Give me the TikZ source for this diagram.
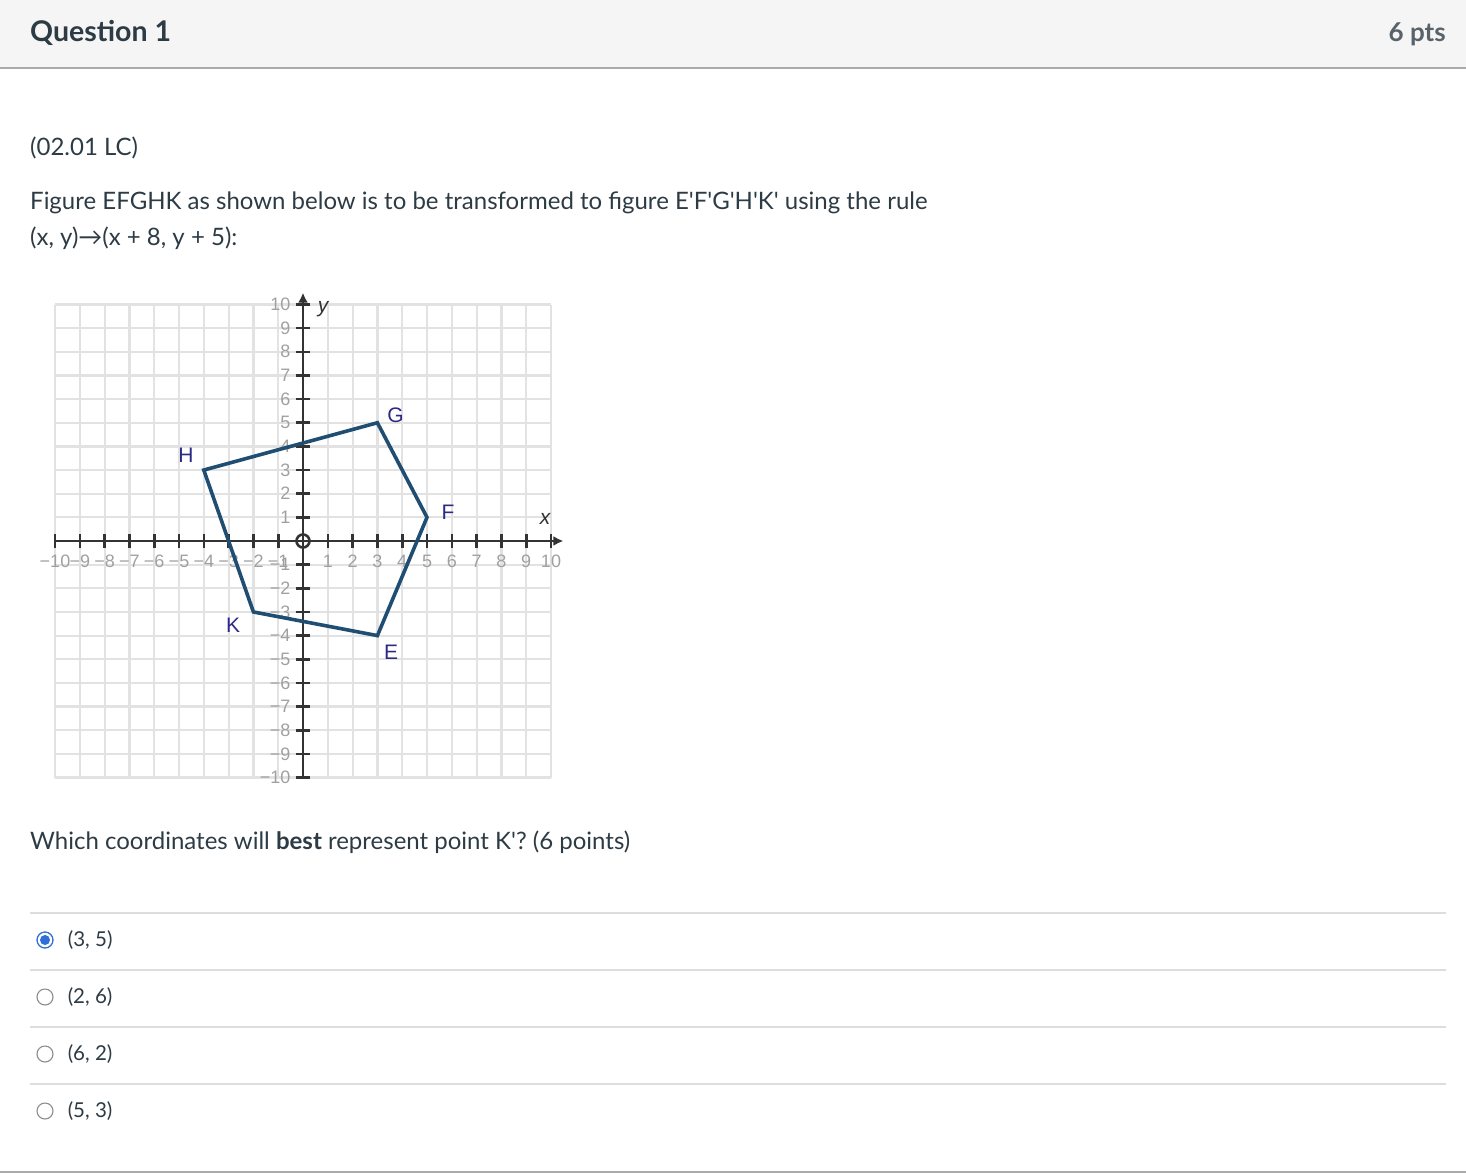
\documentclass[tikz,border=0pt]{standalone}
\usepackage{fontspec}
\setmainfont{Lato}[Ligatures=TeXOff]
\newfontfamily\arial{Liberation Sans}
\usetikzlibrary{positioning,arrows.meta}

\definecolor{canvastext}{HTML}{2D3B45}
\definecolor{headgray}{HTML}{F5F5F5}
\definecolor{rulegray}{HTML}{AAAAAA}
\definecolor{sepgray}{HTML}{DDDDDD}
\definecolor{gridgray}{HTML}{E2E2E2}
\definecolor{axisgray}{HTML}{333333}
\definecolor{numgray}{HTML}{A0A0A0}
\definecolor{shapeblue}{HTML}{1F4E72}
\definecolor{vertexblue}{HTML}{2C2A84}
\definecolor{radioblue}{HTML}{2F6FD6}

\tikzset{
  head/.style={anchor=base west, inner sep=0pt, font=\fontsize{28.5}{34}\selectfont\bfseries, text=canvastext},
  body/.style={anchor=base west, inner sep=0pt, font=\fontsize{24}{29}\selectfont, text=canvastext},
  answer/.style={inner sep=0pt, font=\fontsize{20.5}{25}\selectfont, text=canvastext},
  gridline/.style={gridgray, line width=2.2pt},
  axis/.style={axisgray, line width=2.6pt},
  numlbl/.style={inner sep=0pt, font=\arial\fontsize{18}{21}\selectfont, text=numgray},
  vertexlbl/.style={inner sep=0pt, font=\arial\fontsize{21}{25}\selectfont, text=vertexblue},
  radiooff/.style={circle, draw=gray!90, line width=1.1pt, minimum size=16pt, inner sep=0pt},
  radioon/.style={circle, draw=radioblue, fill=white, line width=1.3pt, minimum size=16pt, inner sep=0pt}
}

\newcommand{\signednum}[1]{\ifnum#1<0 −\number\numexpr-#1\relax\else#1\fi}

\begin{document}
\begin{tikzpicture}[x=1pt,y=-1pt]
\useasboundingbox (0,0) rectangle (1466,1174);

% header bar
\fill[headgray] (0,0) rectangle (1466,68);
\draw[rulegray, line width=1.2pt] (0,68) -- (1466,68);
\node[head] (q1) at (30,42) {Question 1};
\node[head, anchor=base east, text=canvastext!80, font=\fontsize{26}{32}\selectfont\bfseries] (pts) at (1446,42) {6 pts};

% question text
\node[body] (lc) at (30,156) {(02.01 LC)};
\node[body] (rule1) at (30,210) {Figure EFGHK as shown below is to be transformed to figure E'F'G'H'K' using the rule};
\node[body] (rule2) at (30,246) {(x, y)→(x + 8, y + 5):};

% coordinate plane
\begin{scope}[xshift=303pt, yshift=-541pt, x=24.8pt, y=23.65pt]
  \foreach \i in {-10,...,10} {
    \draw[gridline] (\i,-10) -- (\i,10);
    \draw[gridline] (-10,\i) -- (10,\i);
  }
  \draw[axis, -{Latex[length=10pt,width=10pt]}] (-10,0) -- (10.5,0);
  \draw[axis, -{Latex[length=10pt,width=10pt]}] (0,-10) -- (0,10.5);
  \foreach \i in {-10,...,-1,1,2,...,10} {
    \draw[axis] (\i,-0.28) -- (\i,0.28);
    \draw[axis] (-0.3,\i) -- (0.3,\i);
    \node[numlbl] at (\i,-0.85) {\signednum{\i}};
    \node[numlbl, anchor=east] at (-0.5,\i) {\signednum{\i}};
  }
  \draw[axis] (0,0) circle[radius=6.5pt];
  \node[inner sep=0pt, font=\arial\itshape\fontsize{21}{24}\selectfont, text=axisgray] (ylbl) at (0.81,9.8) {y};
  \node[inner sep=0pt, font=\arial\itshape\fontsize{21}{24}\selectfont, text=axisgray] (xlbl) at (9.76,0.93) {x};

  \coordinate (E) at (3,-4);
  \coordinate (F) at (5,1);
  \coordinate (G) at (3,5);
  \coordinate (H) at (-4,3);
  \coordinate (K) at (-2,-3);
  \draw[shapeblue, line width=3.6pt, line join=miter] (E) -- (F) -- (G) -- (H) -- (K) -- cycle;

  \node[vertexlbl] (lblE) at (3.55,-4.7) {E};
  \node[vertexlbl] (lblF) at (5.85,1.23) {F};
  \node[vertexlbl] (lblG) at (3.73,5.31) {G};
  \node[vertexlbl] (lblH) at (-4.72,3.64) {H};
  \node[vertexlbl] (lblK) at (-2.82,-3.55) {K};
\end{scope}

% prompt
\node[body] (ask) at (30,849) {Which coordinates will \textbf{best} represent point K'? (6 points)};

% answers
\foreach \y in {913,970,1027,1084}
  \draw[sepgray, line width=1.2pt] (30,\y) -- (1446,\y);
\draw[rulegray, line width=1.5pt] (0,1172) -- (1466,1172);

\node[radioon] (r1) at (45,940) {};
\fill[radioblue] (r1) circle[radius=5pt];
\node[radiooff] (r2) at (45,997) {};
\node[radiooff] (r3) at (45,1054) {};
\node[radiooff] (r4) at (45,1111) {};

\node[answer, right=14pt of r1] (a1) {(3, 5)};
\node[answer, right=14pt of r2] (a2) {(2, 6)};
\node[answer, right=14pt of r3] (a3) {(6, 2)};
\node[answer, right=14pt of r4] (a4) {(5, 3)};
\end{tikzpicture}
\end{document}
